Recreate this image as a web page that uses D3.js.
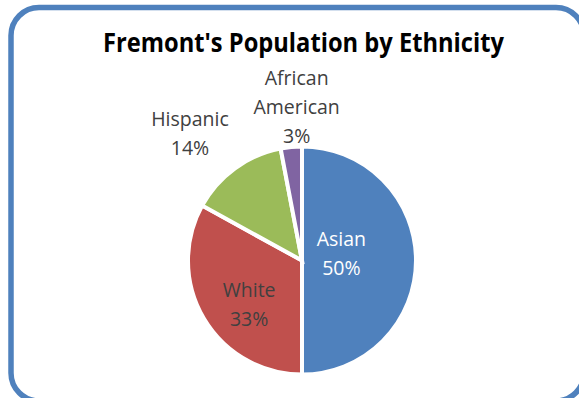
<!DOCTYPE html>
<html>
<head>
<meta charset="utf-8">
<script src="https://cdn.jsdelivr.net/npm/d3@7"></script>
<style>
  html, body { margin: 0; padding: 0; background: #ffffff; overflow: hidden; }
  svg { display: block; }
</style>
</head>
<body>
<svg id="chart" width="579" height="398"></svg>
<script>
// Population shares by ethnicity (percent)
const categories = ["Asian", "White", "Hispanic", "African American"];
const shares = [50, 33, 14, 3];
const labelNames = [["Asian"], ["White"], ["Hispanic"], ["African", "American"]];
const title = "Fremont's Population by Ethnicity";

// Appearance
const colors = ["#4f81bd", "#c0504d", "#9bbb59", "#8064a2"];
const labelColors = ["#ffffff", "#404040", "#404040", "#404040"];
// Label anchor in polar form around the pie centre: [angle in degrees clockwise from 12 o'clock, distance in px]
const labelPolar = [[80, 40], [230, 69], [318.5, 169], [358, 154]];

const W = 579, H = 398;
const cx = 302, cy = 260.5, R = 114;
const font = "'Open Sans', 'Liberation Sans', sans-serif";

const svg = d3.select("#chart");

// Chart frame (runs past the right and bottom edges of the view)
svg.append("rect")
  .attr("x", 11).attr("y", 7.5)
  .attr("width", 573).attr("height", 393.5)
  .attr("rx", 28).attr("ry", 28)
  .attr("fill", "#ffffff")
  .attr("stroke", "#4f81bd")
  .attr("stroke-width", 5.5);

// Title, fitted to its width
svg.append("text")
  .attr("x", 303.5).attr("y", 51.5)
  .attr("text-anchor", "middle")
  .attr("font-family", font)
  .attr("font-weight", 700)
  .attr("font-size", 27)
  .attr("fill", "#000000")
  .attr("textLength", 401)
  .attr("lengthAdjust", "spacingAndGlyphs")
  .text(title);

const data = categories.map((c, i) => ({ name: c, value: shares[i], i }));
const pie = d3.pie().value(d => d.value).sort(null).startAngle(0).endAngle(2 * Math.PI);
const arc = d3.arc().innerRadius(0).outerRadius(R);
const total = d3.sum(shares);
const pct = d3.format(".0%");

const g = svg.append("g").attr("transform", `translate(${cx},${cy})`);

g.selectAll("path.slice")
  .data(pie(data))
  .join("path")
  .attr("class", "slice")
  .attr("d", arc)
  .attr("fill", d => colors[d.data.i])
  .attr("stroke", "#ffffff")
  .attr("stroke-width", 4)
  .attr("stroke-linejoin", "miter");

// Data labels: category name lines followed by the percentage
const lineH = 29, capHalf = 7;
const labels = g.selectAll("text.lbl")
  .data(pie(data))
  .join("text")
  .attr("class", "lbl")
  .attr("text-anchor", "middle")
  .attr("font-family", font)
  .attr("font-size", 19.5)
  .attr("fill", d => labelColors[d.data.i]);

labels.each(function (d) {
  const [deg, dist] = labelPolar[d.data.i];
  const a = deg * Math.PI / 180;
  const x = dist * Math.sin(a), y = -dist * Math.cos(a);
  const lines = labelNames[d.data.i].concat([pct(d.data.value / total)]);
  const n = lines.length;
  d3.select(this).selectAll("tspan")
    .data(lines)
    .join("tspan")
    .attr("x", x)
    .attr("y", (t, k) => y + (k - (n - 1) / 2) * lineH + capHalf)
    .text(t => t);
});
</script>
</body>
</html>
